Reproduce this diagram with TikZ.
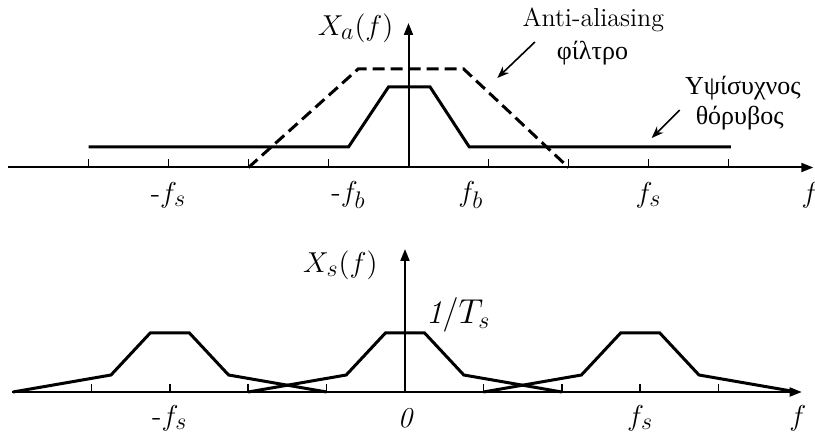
\documentclass[tikz,border=0pt]{standalone}
\usepackage{amsmath,amssymb}
\usepackage{fontspec}
\newfontfamily\greekfont[Script=Greek]{Liberation Serif}
\DeclareMathSizes{14.4}{14.4}{11.5}{9}
\DeclareMathSizes{15.5}{15.5}{12}{9}
\usepackage{tikz}
\usetikzlibrary{arrows.meta,calc}

\begin{document}
\begin{tikzpicture}[x=0.5pt,y=0.5pt,
  axis/.style={line width=1pt,-{Triangle[length=6pt,width=4.5pt]}},
  tickmark/.style={line width=0.8pt},
  spec/.style={line width=1.5pt},
  annot/.style={line width=0.8pt,-{Stealth[length=6pt,width=4.5pt]}},
  lbl/.style={font=\fontsize{14.4}{17}\selectfont},
  txt/.style={font=\fontsize{13}{15}\selectfont},
  big/.style={font=\fontsize{15.5}{18}\selectfont}]
  \useasboundingbox (0,0) rectangle (815,434);

  % top: spectrum before sampling
  \begin{scope}[shift={(204.25pt,133.25pt)},x=40pt,y=5pt]
  \draw[axis] (-5.01,0)--(5.06,0);
  \draw[axis] (0,0)--(0,14.45);
  \foreach \x in {-4,-3,-2,-1,1,2,3,4} \draw[tickmark] (\x,0)--(\x,0.8);
  \draw[spec] (-4,2.05)--(-0.75,2.05)--(-0.25,8.05)--(0.27,8.05)--(0.76,2.05)--(4.03,2.05);
  \draw[spec,dash pattern=on 6pt off 3pt] (-2,0)--(-0.63,9.85)--(0.69,9.85)--(2,0);
  \node[big,anchor=east] (xa) at (-0.1,13.95) {$X_a(f)$};
  \node[lbl] (mfsa) at (-3,-2.75) {-$f_s$};
  \node[lbl] (mfba) at (-0.75,-2.75) {-$f_b$};
  \node[lbl] (fba) at (0.78,-2.75) {$f_b$};
  \node[lbl] (fsa) at (3,-2.75) {$f_s$};
  \node[lbl] (fa) at (5.02,-2.75) {$f$};
  \node[txt] (aa) at (2.31,14.75) {Anti-aliasing};
  \node[txt] (filt) at (2.3,11.45) {\greekfont φίλτρο};
  \node[txt] (hf) at (4.18,7.95) {\greekfont Υψίσυχνος};
  \node[txt] (noise) at (4.14,4.95) {\greekfont θόρυβος};
  \coordinate (filtfrom) at (1.58,12.55);
  \coordinate (filttip) at (1.11,8.95);
  \coordinate (noisefrom) at (3.39,5.75);
  \coordinate (noisetip) at (3.04,2.95);
  \draw[annot] (filtfrom)--(filttip);
  \draw[annot] (noisefrom)--(noisetip);
  \end{scope}

  % bottom: spectrum after sampling
  \begin{scope}[shift={(202.5pt,21pt)},x=39.2pt,y=5pt]
  \draw[axis] (-5.01,0)--(5.06,0);
  \draw[axis] (0,0)--(0,14.3);
  \foreach \x in {-4,-3,-2,-1,1,2,3,4} \draw[tickmark] (\x,0)--(\x,0.8);
  \foreach \c in {-3,0,3}
    \draw[spec] (\c-2,0)--(\c-0.75,1.7)--(\c-0.25,5.9)--(\c+0.25,5.9)--(\c+0.75,1.7)--(\c+2,0);
  \node[big,anchor=east] (xs) at (-0.26,12.7) {$X_s(f)$};
  \node[font=\fontsize{16.5}{19}\selectfont] (amp) at (0.68,7.7) {$\mathit{1}/T_s$};
  \node[lbl] (mfsb) at (-3,-2.6) {-$f_s$};
  \node[lbl] (zero) at (0,-2.6) {$\mathit{0}$};
  \node[lbl] (fsb) at (3,-2.6) {$f_s$};
  \node[lbl] (fb) at (5.01,-2.6) {$f$};
  \end{scope}
\end{tikzpicture}
\end{document}
